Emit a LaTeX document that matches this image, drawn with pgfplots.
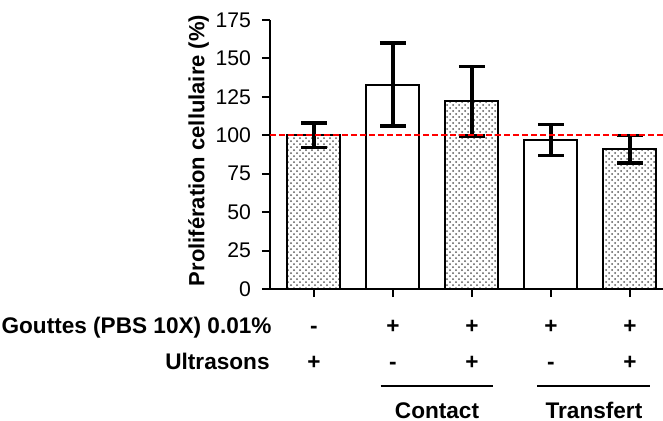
\documentclass[border=0pt]{standalone}
\usepackage{pgfplots}
\pgfplotsset{compat=1.18}
\usepackage{fontspec}
\setmainfont{Liberation Sans}
\usetikzlibrary{patterns}
\begin{document}
\begin{tikzpicture}[x=1pt,y=1pt]
\useasboundingbox (-135pt,-65.5pt) rectangle (196.5pt,144.5pt);
\begin{axis}[
  at={(0pt,0pt)}, anchor=south west,
  scale only axis,
  width=196.5pt, height=134.5pt,
  xmin=-0.557, xmax=4.418,
  ymin=0, ymax=175,
  axis lines=left,
  axis line style={line width=1pt, -},
  ytick={0,25,50,75,100,125,150,175},
  xtick={0,1,2,3,4},
  xticklabels={},
  tick style={line width=1pt, black},
  major tick length=4pt,
  tick align=outside,
  yticklabel style={font=\fontsize{10.6}{13}\selectfont, xshift=-2pt},
  /pgf/number format/assume math mode=true,
  ylabel={\bfseries Prolifération cellulaire (\%)},
  ylabel style={font=\fontsize{11}{13}\selectfont, yshift=-3.5pt, xshift=2pt},
  clip=false,
]
\addplot[ybar, bar width=26.5pt, fill=white, draw=black, line width=1pt,
  postaction={pattern=crosshatch dots, pattern color=black!65},
  error bars/.cd, y dir=both, y explicit,
  error bar style={line width=1.6pt, black},
  error mark options={rotate=90, mark size=6.5pt, line width=1.6pt, black}]
  coordinates {(0,100) +- (0,8) (2,122) +- (0,22.5) (4,91) +- (0,9)};
\addplot[ybar, bar width=26.5pt, fill=white, draw=black, line width=1pt,
  error bars/.cd, y dir=both, y explicit,
  error bar style={line width=1.6pt, black},
  error mark options={rotate=90, mark size=6.5pt, line width=1.6pt, black}]
  coordinates {(1,133) +- (0,27) (3,97) +- (0,10)};
\addplot[draw=red, color=red, no marks, dash pattern=on 3pt off 1.5pt, line width=0.9pt] coordinates {(-0.557,100) (4.418,100)};
\node[anchor=base east, inner xsep=0pt, font=\bfseries\fontsize{11.3}{13}\selectfont] at ([xshift=1pt,yshift=-22pt]axis cs:-0.557,0) {Gouttes (PBS 10X) 0.01\%};
\node[anchor=base east, inner xsep=0pt, font=\bfseries\fontsize{11.3}{13}\selectfont] at ([xshift=0pt,yshift=-40pt]axis cs:-0.557,0) {Ultrasons};
\node[anchor=base, font=\bfseries\fontsize{11.3}{13}\selectfont] at ([yshift=-22pt]axis cs:0,0) {-};
\node[anchor=base, font=\bfseries\fontsize{11.3}{13}\selectfont] at ([yshift=-22pt]axis cs:1,0) {+};
\node[anchor=base, font=\bfseries\fontsize{11.3}{13}\selectfont] at ([yshift=-22pt]axis cs:2,0) {+};
\node[anchor=base, font=\bfseries\fontsize{11.3}{13}\selectfont] at ([yshift=-22pt]axis cs:3,0) {+};
\node[anchor=base, font=\bfseries\fontsize{11.3}{13}\selectfont] at ([yshift=-22pt]axis cs:4,0) {+};
\node[anchor=base, font=\bfseries\fontsize{11.3}{13}\selectfont] at ([yshift=-40pt]axis cs:0,0) {+};
\node[anchor=base, font=\bfseries\fontsize{11.3}{13}\selectfont] at ([yshift=-40pt]axis cs:1,0) {-};
\node[anchor=base, font=\bfseries\fontsize{11.3}{13}\selectfont] at ([yshift=-40pt]axis cs:2,0) {+};
\node[anchor=base, font=\bfseries\fontsize{11.3}{13}\selectfont] at ([yshift=-40pt]axis cs:3,0) {-};
\node[anchor=base, font=\bfseries\fontsize{11.3}{13}\selectfont] at ([yshift=-40pt]axis cs:4,0) {+};
\draw[line width=1pt] ([yshift=-48.5pt]axis cs:0.842,0) -- ([yshift=-48.5pt]axis cs:2.272,0);
\draw[line width=1pt] ([yshift=-48.5pt]axis cs:2.829,0) -- ([yshift=-48.5pt]axis cs:4.259,0);
\node[anchor=base, font=\bfseries\fontsize{11.3}{13}\selectfont] at ([yshift=-64.5pt]axis cs:1.557,0) {Contact};
\node[anchor=base, font=\bfseries\fontsize{11.3}{13}\selectfont] at ([yshift=-64.5pt]axis cs:3.544,0) {Transfert};
\end{axis}
\end{tikzpicture}
\end{document}
